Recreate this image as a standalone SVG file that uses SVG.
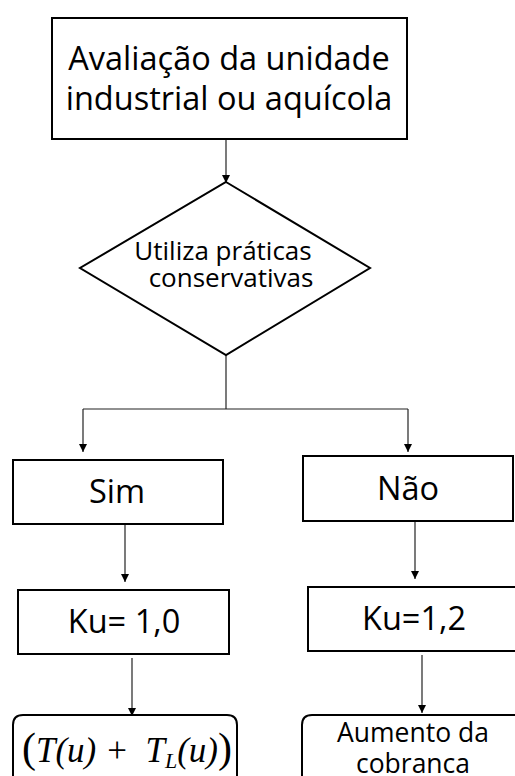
<svg xmlns="http://www.w3.org/2000/svg" width="515" height="776" viewBox="0 0 515 776">
<defs>
<marker id="ah" markerWidth="8" markerHeight="8" refX="8" refY="4" orient="auto" markerUnits="userSpaceOnUse">
<path d="M0,0 L8,4 L0,8 Z" fill="#000"/>
</marker>
<style>
.box{fill:#fff;stroke:#000;stroke-width:2}
.lbl{font-family:"Open Sans","Liberation Sans",sans-serif;fill:#000;text-anchor:middle}
.con{fill:none;stroke:#222;stroke-width:1.2}
.math{font-family:"Liberation Serif","DejaVu Serif",serif;font-style:italic;fill:#000}
</style>
</defs>
<rect width="515" height="776" fill="#fff"/>
<g id="connectors">
<line class="con" x1="226" y1="139" x2="226" y2="183" marker-end="url(#ah)"/>
<polyline class="con" points="226,355 226,409"/>
<polyline class="con" points="83,409 408,409"/>
<line class="con" x1="83" y1="409" x2="83" y2="452" marker-end="url(#ah)"/>
<line class="con" x1="408" y1="409" x2="408" y2="452" marker-end="url(#ah)"/>
<line class="con" x1="125" y1="524" x2="125" y2="582" marker-end="url(#ah)"/>
<line class="con" x1="415" y1="521" x2="415" y2="579" marker-end="url(#ah)"/>
<line class="con" x1="132" y1="658" x2="132" y2="716" marker-end="url(#ah)"/>
<line class="con" x1="422" y1="655" x2="422" y2="713" marker-end="url(#ah)"/>
</g>
<g id="start">
<rect class="box" x="52" y="18" width="355" height="121"/>
<text class="lbl" x="229" y="70" font-size="32.5">Avaliação da unidade</text>
<text class="lbl" x="229" y="110" font-size="32.5">industrial ou aquícola</text>
</g>
<g id="decision">
<polygon class="box" points="226,182 370,268 226,355 80,268"/>
<text class="lbl" x="223" y="260" font-size="26">Utiliza práticas</text>
<text class="lbl" x="231" y="287" font-size="26">conservativas</text>
</g>
<g id="sim">
<rect class="box" x="13" y="460" width="210" height="64"/>
<text class="lbl" x="117" y="503" font-size="32.5">Sim</text>
</g>
<g id="nao">
<rect class="box" x="303" y="456" width="210" height="65"/>
<text class="lbl" x="408" y="500" font-size="32.5">Não</text>
</g>
<g id="ku10">
<rect class="box" x="18" y="590" width="211" height="64"/>
<text class="lbl" x="124" y="633" font-size="32.5">Ku= 1,0</text>
</g>
<g id="ku12">
<rect class="box" x="308" y="587" width="215" height="64"/>
<text class="lbl" x="414" y="630" font-size="32.5">Ku=1,2</text>
</g>
<g id="formula">
<path class="box" d="M13,776 L13,725 Q13,715 23,715 L227,715 Q237,715 237,725 L237,776"/>
<text class="math" x="22" y="762" font-size="35"><tspan font-style="normal" font-size="42">(</tspan>T(u) + <tspan dx="8">T</tspan><tspan font-size="22" dy="6">L</tspan><tspan dy="-6">(u)</tspan><tspan font-style="normal" font-size="42">)</tspan></text>
</g>
<g id="aumento">
<path class="box" d="M302,776 L302,725 Q302,715 312,715 L525,715"/>
<text class="lbl" x="413" y="742" font-size="26.5">Aumento da</text>
<text class="lbl" x="413" y="773" font-size="26.5">cobranca</text>
</g>
</svg>
